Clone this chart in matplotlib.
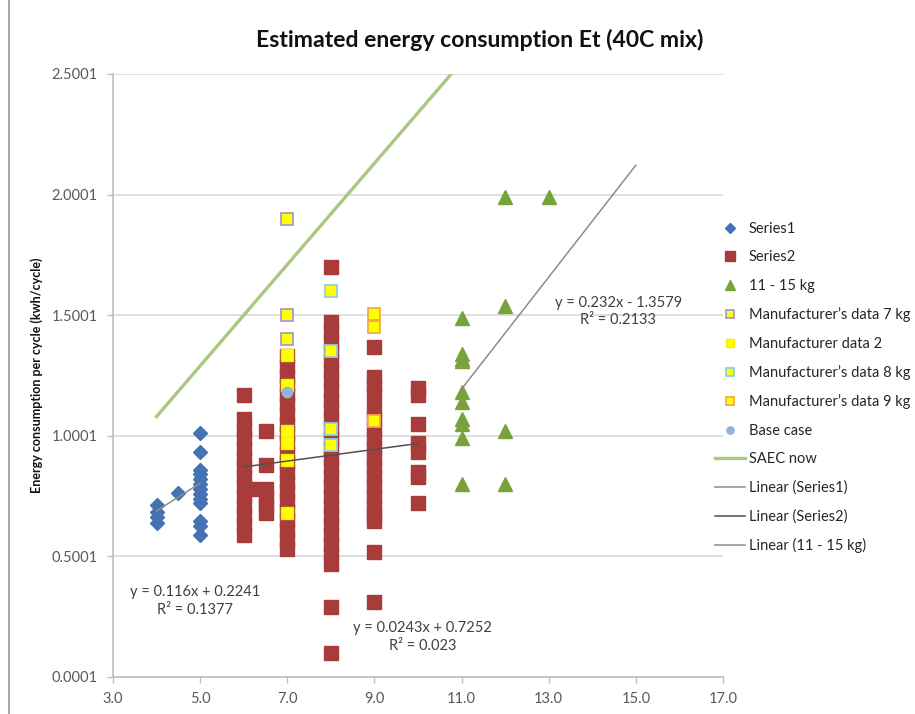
import numpy as np
import matplotlib
matplotlib.use("Agg")
import matplotlib.pyplot as plt
from matplotlib.lines import Line2D

plt.rcParams['font.family'] = ['Lato', 'DejaVu Sans']

# Series1 (blue diamonds)
s1_x = [4.0, 4.0, 4.0, 4.0, 4.5] + [5.0] * 13
s1_y = [0.715, 0.685, 0.665, 0.64, 0.763,
        1.01, 0.935, 0.86, 0.84, 0.82, 0.80, 0.78, 0.76, 0.74, 0.72, 0.645, 0.625, 0.59]

# Series2 (red squares), one list per load
s2_6 = [1.17, 1.07, 1.03, 0.99, 0.95, 0.91, 0.87, 0.83, 0.79, 0.75, 0.71, 0.67, 0.63, 0.59]
s2_62 = [0.78]
s2_65 = [1.02, 0.88, 0.78, 0.745, 0.71, 0.68]
s2_7 = [1.33, 1.29, 1.25, 1.21, 1.17, 1.13, 1.09, 1.05, 1.01, 0.97, 0.93, 0.89, 0.85,
        0.81, 0.77, 0.73, 0.69, 0.65, 0.61, 0.57, 0.53]
s2_8 = [1.70, 1.47, 1.43, 1.39, 1.35, 1.31, 1.27, 1.23, 1.19, 1.15, 1.11, 1.07, 1.03,
        0.99, 0.95, 0.91, 0.87, 0.83, 0.79, 0.75, 0.71, 0.67, 0.63, 0.59, 0.55, 0.51,
        0.47, 0.29, 0.10]
s2_9 = [1.37, 1.245, 1.21, 1.175, 1.11, 1.07, 1.03, 0.99, 0.95, 0.91, 0.87, 0.83,
        0.79, 0.75, 0.71, 0.67, 0.645, 0.52, 0.31]
s2_10 = [1.20, 1.17, 1.05, 0.97, 0.935, 0.85, 0.83, 0.72]
s2_cols = [(6.0, s2_6), (6.2, s2_62), (6.5, s2_65), (7.0, s2_7),
           (8.0, s2_8), (9.0, s2_9), (10.0, s2_10)]

# 11 - 15 kg (green triangles)
s3_x = [11] * 10 + [12] * 4 + [13]
s3_y = [1.49, 1.34, 1.32, 1.31, 1.18, 1.14, 1.07, 1.05, 0.99, 0.80,
        1.99, 1.54, 1.02, 0.80, 1.99]

# manufacturer data (yellow squares)
m7_x, m7_y = [7, 7, 7], [1.90, 1.50, 1.40]
m2_x, m2_y = [7, 7, 7, 7, 7, 7], [1.335, 1.21, 1.02, 0.97, 0.90, 0.68]
m8_x, m8_y = [8, 8, 8, 8], [1.60, 1.35, 1.03, 0.96]
m9_x, m9_y = [9, 9, 9], [1.505, 1.45, 1.06]
base_x, base_y = [7], [1.18]

# SAEC now
saec_x = [4, 5, 6, 7, 8, 9, 10, 11]
saec_y = [1.08, 1.29, 1.50, 1.71, 1.92, 2.13, 2.34, 2.55]

# trendlines: slope, intercept, x range
trend1 = (0.116, 0.2241, 4, 5)
trend2 = (0.0243, 0.7252, 6, 10)
trend3 = (0.232, -1.3579, 11, 15)

x_ticks = [3, 5, 7, 9, 11, 13, 15, 17]
y_ticks = [0.0001, 0.5001, 1.0001, 1.5001, 2.0001, 2.5001]

fig = plt.figure(figsize=(9.15, 7.14), dpi=100)
ax = fig.add_axes([113 / 915, 1 - 677 / 714, (723 - 113) / 915, (677 - 74) / 714])

red = '#A83C3A'
ax.plot(s1_x, s1_y, 'D', ms=7, color='#4472B4', mec='#4472B4', ls='none', label='Series1', zorder=3)
s2x = [x for x, ys in s2_cols for _ in ys]
s2y = [y for _, ys in s2_cols for y in ys]
ax.plot(s2x, s2y, 's', ms=9.5, color=red, mec=red, ls='none', label='Series2', zorder=3)
ax.plot(s3_x, s3_y, '^', ms=9.5, color='#77A33A', mec='#77A33A', ls='none', label='11 - 15 kg', zorder=3)
ax.plot(m7_x, m7_y, 's', ms=8, color='#FFFF00', mec='#A99BCB', mew=1.3, ls='none',
        label='Manufacturer\u2019s data 7 kg', zorder=4)
ax.plot(m2_x, m2_y, 's', ms=8, color='#FFFF00', mec='#F2F200', mew=1.0, ls='none',
        label='Manufacturer data 2', zorder=4)
ax.plot(m8_x, m8_y, 's', ms=8, color='#FFFF00', mec='#8FCFE0', mew=1.3, ls='none',
        label='Manufacturer\u2019s data 8 kg', zorder=4)
ax.plot(m9_x, m9_y, 's', ms=8, color='#FFFF00', mec='#F5A94A', mew=1.3, ls='none',
        label='Manufacturer\u2019s data 9 kg', zorder=4)
ax.plot(base_x, base_y, 'o', ms=7.5, color='#95B3D7', mec='#95B3D7', ls='none', label='Base case', zorder=4)
ax.plot(saec_x, saec_y, '-', color='#A8C97F', lw=2.4, label='SAEC now', zorder=5)

for (m, c, x0, x1), lab, col in [(trend1, 'Linear (Series1)', '#8C8C8C'),
                                  (trend2, 'Linear (Series2)', '#505050'),
                                  (trend3, 'Linear (11 - 15 kg)', '#8C8C8C')]:
    xs = np.array([x0, x1])
    ax.plot(xs, m * xs + c, '-', color=col, lw=1.1, label=lab, zorder=5)

ax.set_xlim(3, 17)
ax.set_ylim(0.0001, 2.5001)
ax.set_xticks(x_ticks)
ax.set_xticklabels([f'{v:.1f}' for v in x_ticks])
ax.set_yticks(y_ticks)
ax.set_yticklabels([f'{v:.4f}' for v in y_ticks])
ax.yaxis.grid(True, color='#D9D9D9', lw=1.2)
ax.set_axisbelow(True)
for s in ['top', 'right']:
    ax.spines[s].set_visible(False)
for s in ['left', 'bottom']:
    ax.spines[s].set_color('#BFBFBF')
    ax.spines[s].set_linewidth(1.2)
ax.tick_params(axis='both', colors='#BFBFBF', labelcolor='#595959', labelsize=10.5, length=4, width=1)
ax.tick_params(axis='x', pad=7)
ax.tick_params(axis='y', pad=7)

ax.set_ylabel('Energy consumption per cycle (kwh/cycle)', fontsize=9, fontweight='bold',
              color='#111111', labelpad=6)
fig.suptitle('Estimated energy consumption Et (40C mix)', fontsize=16.6, fontweight='bold',
             x=480 / 915, y=1 - 40 / 714, va='center', color='#111111')

tc = '#404040'
ax.text(4.88, 0.315, 'y = 0.116x + 0.2241\nR\u00b2 = 0.1377', fontsize=10.5, color=tc,
        ha='center', va='center', linespacing=1.3)
ax.text(10.1, 0.166, 'y = 0.0243x + 0.7252\nR\u00b2 = 0.023', fontsize=10.5, color=tc,
        ha='center', va='center', linespacing=1.3)
ax.text(14.6, 1.515, 'y = 0.232x - 1.3579\nR\u00b2 = 0.2133', fontsize=10.5, color=tc,
        ha='center', va='center', linespacing=1.3)

leg = ax.legend(loc='upper left', bbox_to_anchor=(715 / 915, 1 - 222 / 714),
                bbox_transform=fig.transFigure, frameon=False, fontsize=10.5,
                handlelength=2.05, handletextpad=0.27, labelspacing=0.99,
                markerscale=0.7, borderpad=0, borderaxespad=0)
for t in leg.get_texts():
    t.set_color('#262626')

fig.add_artist(Line2D([9 / 915, 9 / 915], [0, 1], transform=fig.transFigure, color='#9A9A9A', lw=1.2))

fig.savefig('out.png', dpi=100)
